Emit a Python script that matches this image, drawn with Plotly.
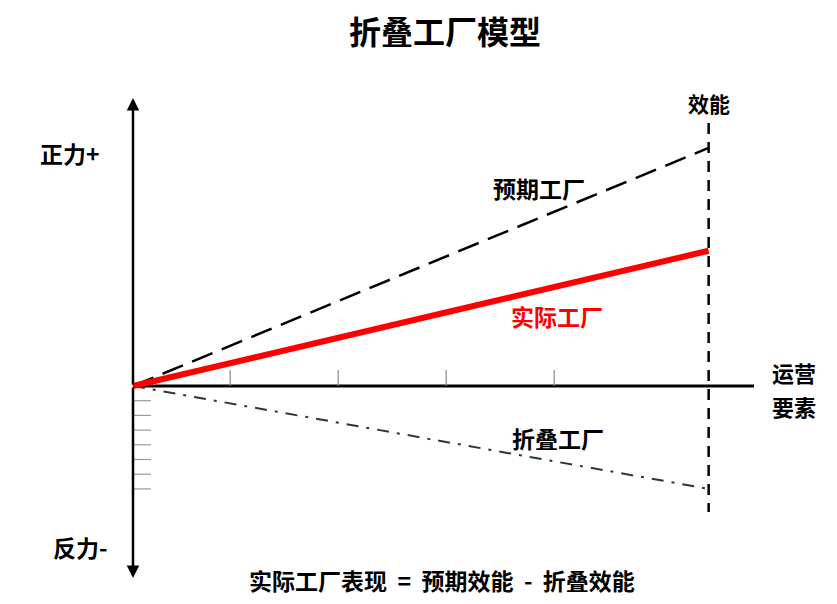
import plotly.graph_objects as go

# 横轴: 运营要素 (刻度单位), 纵轴: 力 (正力+ / 反力-)
x_ticks = [0.9, 1.9, 2.9, 3.9]
x_end = 5.33              # 效能线位置
expected_end = 16.2       # 预期工厂
folding_end = -7.0        # 折叠工厂
actual_end = expected_end + folding_end   # 实际工厂 = 预期 - 折叠
y_ticks_neg = [-1, -2, -3, -4, -5, -6, -7]

title = "折叠工厂模型"
formula = "实际工厂表现&nbsp;&nbsp;=&nbsp;&nbsp;预期效能&nbsp;&nbsp;-&nbsp;&nbsp;折叠效能"

# page has an 8px body margin, so work in page pixels and shift by 8
OFF = 8
W, H = 837 - 2 * OFF, 604 - 2 * OFF
px_x, px_y = 108.0, 14.7
x0_px, y0_px = 133 - OFF, 386 - OFF


def X(p):
    return (p - OFF - x0_px) / px_x


def Y(p):
    return (y0_px - (p - OFF)) / px_y


xr = [X(OFF), X(OFF + W)]
yr = [Y(OFF + H), Y(OFF)]

font = "Noto Sans CJK SC, sans-serif"

fig = go.Figure()

fig.add_trace(go.Scatter(x=[0, x_end], y=[0, expected_end], mode="lines",
                         line=dict(color="black", width=2.5, dash="22px,10px"),
                         hoverinfo="skip"))
fig.add_trace(go.Scatter(x=[0, x_end], y=[0, folding_end], mode="lines",
                         line=dict(color="#333333", width=2, dash="12px,8px,3px,8px"),
                         hoverinfo="skip"))
fig.add_trace(go.Scatter(x=[0, x_end], y=[0, actual_end], mode="lines",
                         line=dict(color="#ff0000", width=6),
                         hoverinfo="skip"))

shapes = []
# x axis
shapes.append(dict(type="line", x0=0, x1=X(754), y0=0, y1=0,
                   line=dict(color="black", width=3), layer="below"))
# x ticks
for t in x_ticks:
    shapes.append(dict(type="line", x0=t, x1=t, y0=0, y1=16 / px_y,
                       line=dict(color="#888888", width=1.2), layer="below"))
# y ticks below origin
for t in y_ticks_neg:
    shapes.append(dict(type="line", x0=0, x1=18 / px_x, y0=t, y1=t,
                       line=dict(color="#999999", width=1.2), layer="below"))
# 效能 dashed vertical
shapes.append(dict(type="line", x0=x_end, x1=x_end, y0=Y(123), y1=Y(512),
                   line=dict(color="black", width=2.5, dash="11px,8px"), layer="below"))

ann = []
# y axis with arrows both ways
for tip in (Y(98), Y(578)):
    ann.append(dict(x=0, y=tip, ax=0, ay=0, xref="x", yref="y",
                    axref="x", ayref="y", showarrow=True, arrowhead=2, arrowsize=1,
                    arrowwidth=2.5, arrowcolor="black", text=""))


def label(text, x, y, size=23, color="black", **kw):
    ann.append(dict(text="<b>%s</b>" % text, x=X(x), y=Y(y), xref="x", yref="y",
                    showarrow=False, font=dict(family=font, size=size, color=color), **kw))


label("效能", 709, 103, 21)
label("正力+", 70, 153)
label("反力-", 80, 547)
label("运营", 794, 372, 22)
label("要素", 794, 406, 22)
label("预期工厂", 539, 188)
label("实际工厂", 557, 316, 23, "#ff0000")
label("折叠工厂", 558, 438)
label(formula, 442, 580, 23)
label(title, 445, 30, 32)

fig.update_layout(
    width=W, height=H,
    margin=dict(l=0, r=0, t=0, b=0),
    plot_bgcolor="white", paper_bgcolor="white",
    showlegend=False,
    xaxis=dict(range=xr, visible=False, fixedrange=True),
    yaxis=dict(range=yr, visible=False, fixedrange=True),
    shapes=shapes, annotations=ann,
)

fig.write_html("out.html")
